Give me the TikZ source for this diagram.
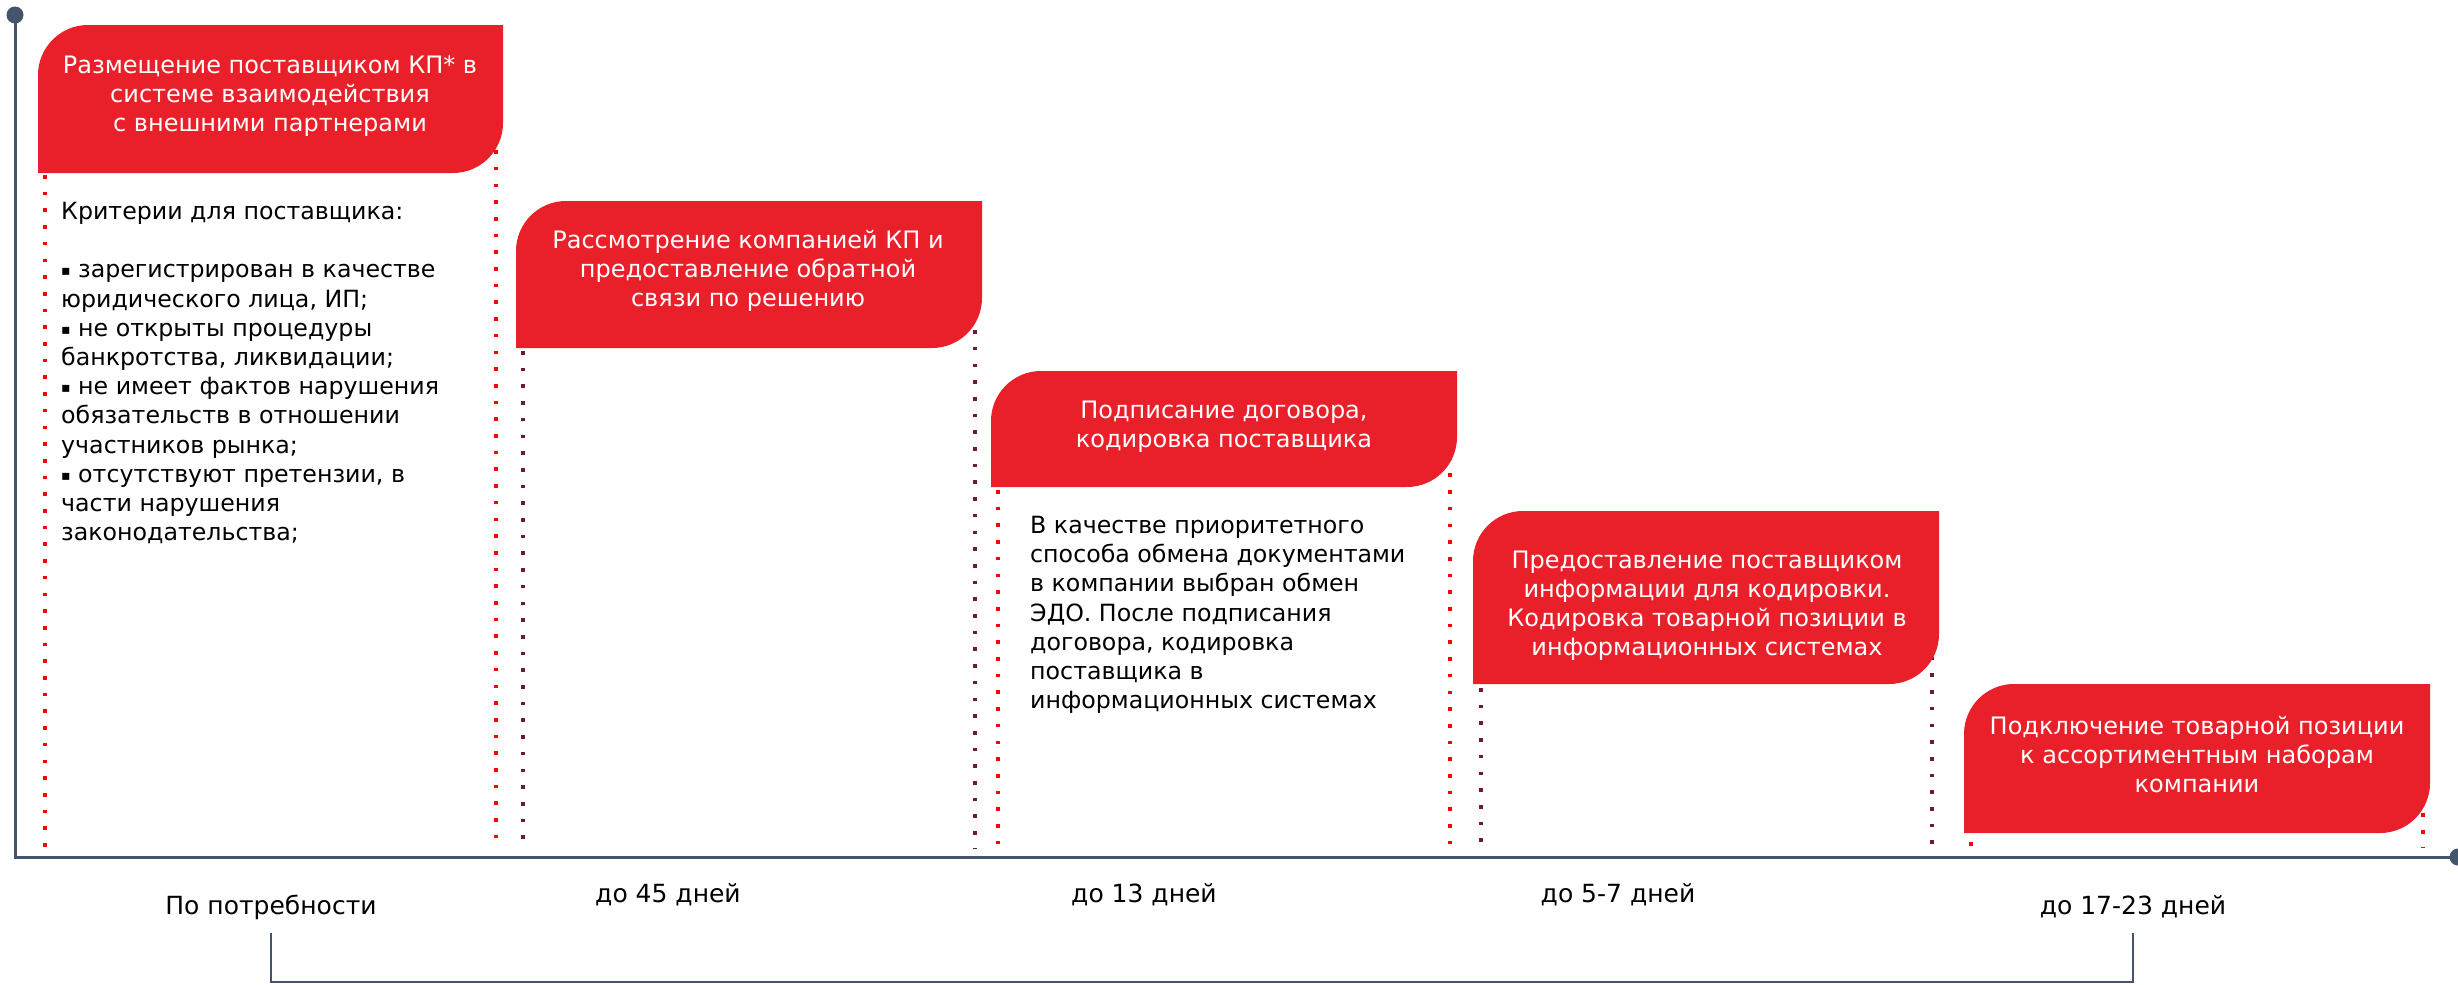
\documentclass[tikz,border=0pt]{standalone}
\usepackage{fontspec}
\setmainfont{DejaVu Sans}
\usetikzlibrary{calc}
\definecolor{boxred}{RGB}{233,32,41}
\definecolor{dotred}{RGB}{255,0,0}
\definecolor{dotmaroon}{RGB}{110,26,52}
\definecolor{axisgray}{RGB}{68,84,106}
\newcommand\stagebox[5]{%
  \coordinate (#1sw) at (#2,-#5);
  \coordinate (#1nw) at (#2,-#3);
  \coordinate (#1ne) at (#4,-#3);
  \coordinate (#1se) at (#4,-#5);
  \fill[boxred] (#1sw) -- ([yshift=-50pt]#1nw) arc[start angle=180,end angle=90,radius=50pt]
     -- (#1ne) -- ([yshift=50pt]#1se) arc[start angle=0,end angle=-90,radius=50pt] -- cycle;}
\newcommand\smallbullet{\raisebox{2pt}{\fontsize{14}{14}\selectfont ▪}}
\begin{document}
\begin{tikzpicture}[x=1pt,y=1pt,
  axisline/.style={draw=axisgray,line width=3pt},
  bracketline/.style={draw=axisgray,line width=2pt},
  guide/.style={line width=3.6pt,dash pattern=on 3.6pt off 13.1pt},
  redguide/.style={guide,draw=dotred},
  maroonguide/.style={guide,draw=dotmaroon},
  boxtext/.style={text=white,align=center,font=\fontsize{24}{29}\selectfont,inner sep=0pt},
  bodytext/.style={text=black,align=left,font=\fontsize{23.7}{29.2}\selectfont,inner sep=0pt,anchor=north west},
  daylabel/.style={text=black,font=\fontsize{25}{30}\selectfont,inner sep=0pt},
  endpoint/.style={circle,fill=axisgray,inner sep=0pt,minimum size=17pt}]
\fill[white] (0,0) rectangle (2458,-985);
\useasboundingbox (0,0) rectangle (2458,-985);

% guide end level
\coordinate (gEnd) at (0,-848);
% dotted guides
\coordinate (g1l) at (45,-175);   \coordinate (g1r) at (496,-100);
\coordinate (g2l) at (523,-351);  \coordinate (g2r) at (975,-280);
\coordinate (g3l) at (998,-490);  \coordinate (g3r) at (1450,-440);
\coordinate (g4l) at (1481,-688); \coordinate (g4r) at (1932,-640);
\coordinate (g5l) at (1971,-842); \coordinate (g5r) at (2423,-780);
\draw[redguide] (g1l) -- (g1l |- gEnd);
\draw[redguide] (g1r) -- (g1r |- gEnd);
\draw[maroonguide] (g2l) -- (g2l |- gEnd);
\draw[maroonguide] (g2r) -- (g2r |- gEnd);
\draw[redguide] (g3l) -- (g3l |- gEnd);
\draw[redguide] (g3r) -- (g3r |- gEnd);
\draw[maroonguide] (g4l) -- (g4l |- gEnd);
\draw[maroonguide] (g4r) -- (g4r |- gEnd);
\draw[redguide] (g5l) -- (g5l |- gEnd);
\draw[redguide] (g5r) -- (g5r |- gEnd);

% axes
\coordinate (axtop) at (15,-15);
\coordinate (O) at (15,-857);
\coordinate (axend) at (2458,-857);
\draw[axisline] (axtop) -- (O) -- (axend);
\node[endpoint] (topdot) at (axtop) {};
\node[endpoint] (enddot) at (axend) {};

% boxes
\stagebox{b1}{38}{25}{503}{173}
\stagebox{b2}{516}{201}{982}{348}
\stagebox{b3}{991}{371}{1457}{487}
\stagebox{b4}{1473}{511}{1939}{684}
\stagebox{b5}{1964}{684}{2430}{833}

\node[boxtext] (t1) at (270,-96) {Размещение поставщиком КП* в\\системе взаимодействия\\с внешними партнерами};
\node[boxtext] (t2) at (748,-271) {Рассмотрение компанией КП и\\предоставление обратной\\связи по решению};
\node[boxtext] (t3) at (1224,-427) {Подписание договора,\\кодировка поставщика};
\node[boxtext] (t4) at (1707,-606) {Предоставление поставщиком\\информации для кодировки.\\Кодировка товарной позиции в\\информационных системах};
\node[boxtext] (t5) at (2197,-755) {Подключение товарной позиции\\к ассортиментным наборам\\компании};

% body texts
\node[bodytext] (n1) at (61,-202) {Критерии для поставщика:\\[29.2pt]
\smallbullet{} зарегистрирован в качестве\\
юридического лица, ИП;\\
\smallbullet{} не открыты процедуры\\
банкротства, ликвидации;\\
\smallbullet{} не имеет фактов нарушения\\
обязательств в отношении\\
участников рынка;\\
\smallbullet{} отсутствуют претензии, в\\
части нарушения\\
законодательства;};
\node[bodytext] (n2) at (1030,-516) {В качестве приоритетного\\
способа обмена документами\\
в компании выбран обмен\\
ЭДО. После подписания\\
договора, кодировка\\
поставщика в\\
информационных системах};

% day labels
\node[daylabel] (l1) at (271,-907) {По потребности};
\node[daylabel] (l2) at (668,-895) {до 45 дней};
\node[daylabel] (l3) at (1144,-895) {до 13 дней};
\node[daylabel] (l4) at (1618,-895) {до 5-7 дней};
\node[daylabel] (l5) at (2133,-907) {до 17-23 дней};

% bracket
\coordinate (brTop) at (0,-933);
\draw[bracketline] (l1 |- brTop) -- ++(0,-49) -| (l5 |- brTop);
\end{tikzpicture}
\end{document}
